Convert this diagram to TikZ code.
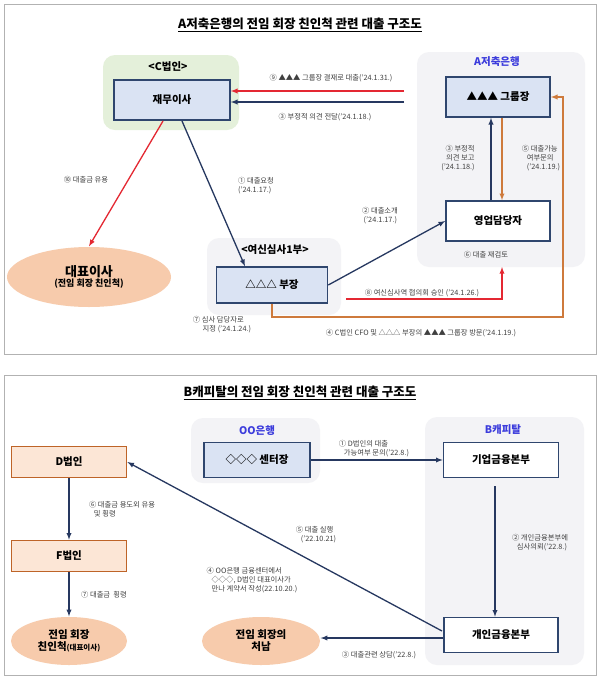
\documentclass[tikz,border=0pt]{standalone}
\usepackage{fontspec}
\setmainfont{Noto Sans CJK KR}
\usepackage{tikz}
\usetikzlibrary{arrows}
\usetikzlibrary{shapes.geometric}
\definecolor{navy}{RGB}{38,56,96}
\definecolor{lred}{RGB}{228,40,50}
\definecolor{lorange}{RGB}{206,122,60}
\definecolor{boxblue}{RGB}{218,227,243}
\definecolor{boxedge}{RGB}{47,70,110}
\definecolor{greenbg}{RGB}{228,240,218}
\definecolor{graybg}{RGB}{243,243,246}
\definecolor{peach}{RGB}{247,203,172}
\definecolor{tan}{RGB}{252,230,214}
\definecolor{tanedge}{RGB}{190,100,40}
\definecolor{titleblue}{RGB}{60,60,220}
\tikzset{
  box/.style={draw=boxedge,line width=1.6pt,fill=white,minimum width=104pt,minimum height=40pt,font=\fontsize{10.5}{12}\selectfont\bfseries},
  bbox/.style={box,fill=boxblue},
  tbox/.style={box,draw=tanedge,fill=tan,minimum width=115pt,minimum height=31pt},
  panel/.style={fill=graybg,rounded corners=12pt},
  oval/.style={ellipse,fill=peach,font=\fontsize{10.5}{12}\selectfont\bfseries,align=center},
  lbl/.style={font=\fontsize{7.3}{9}\selectfont,text=black!75,align=left},
  head/.style={font=\fontsize{10.5}{12}\selectfont\bfseries},
}
\begin{document}
\begin{tikzpicture}[x=1pt,y=-1pt,>=latex,line width=1.3pt]
			\useasboundingbox (0,0) rectangle (600,681);
			\fill[white] (0,0) rectangle (600,681);
			\draw[black!30,line width=0.8pt] (4,4) rectangle (596,354);
			\draw[black!30,line width=0.8pt] (4,375) rectangle (596,675);
			
			% A bank
			
			\node[font=\fontsize{12.5}{14}\selectfont\bfseries] (titleA) at (300,25) {\underline{A저축은행의 전임 회장 친인척 관련 대출 구조도}};
			\fill[greenbg,rounded corners=12pt] (103,55) rectangle (239,130);
			\fill[panel] (417,52) rectangle (585,267);
			\fill[panel] (207,238) rectangle (341,315);
			\node[head] (cLabel) at (168,67) {<C법인>};
			\node[head,text=titleblue] (aLabel) at (497,62) {A저축은행};
			\node[head] (sLabel) at (275,250) {<여신심사1부>};
			\node[bbox,minimum width=116pt] (cfo) at (172,100) {재무이사};
			\node[bbox] (head1) at (498,97) {▲▲▲ 그룹장};
			\node[box] (sales) at (498,221) {영업담당자};
			\node[bbox,minimum width=111pt,minimum height=36pt] (mgr) at (272,285) {△△△ 부장};
			\node[oval,minimum width=164pt,minimum height=60pt] (ceo) at (89,277) {{\fontsize{13}{14}\selectfont 대표이사}\\[-2pt]{\fontsize{9}{10}\selectfont(전임 회장 친인척)}};
			\coordinate (r1) at (404,91);
			\coordinate (r2) at (404,102);
			\draw[->,lred] (r1) -- (cfo.east |- r1);
			\draw[->,navy] (r2) -- (cfo.east |- r2);
			\node[lbl] (l9) at (331,78) {⑨ ▲▲▲ 그룹장 결재로 대출(’24.1.31.)};
			\node[lbl] (l3a) at (325,117) {③ 부정적 의견 전달(’24.1.18.)};
			\draw[->,navy] (182,121) -- (mgr.north -| 245,0);
			\node[lbl] (l1) at (256,186) {① 대출요청\\(’24.1.17.)};
			\draw[->,lred] (163,121) -- (ceo.north);
			\node[lbl] (l10) at (86,180) {⑩ 대출금 유용};
			\draw[->,navy] (mgr.east) -- (sales.west);
			\node[lbl] (l2) at (380,216) {② 대출소개\\ \ (’24.1.17.)};
			\draw[->,navy] (sales.north -| 491,0) -- (head1.south -| 491,0);
			\node[lbl,align=right] (l3b) at (458,158) {③ 부정적\\의견 보고\\(’24.1.18.)};
			\draw[->,lorange] (head1.south -| 502,0) -- (sales.north -| 502,0);
			\node[lbl] (l5) at (541,158) {⑤ 대출가능\\\ \ \ 여부문의\\\ \ \ (’24.1.19.)};
			\node[lbl] (l6) at (486,255) {⑥ 대출 재검토};
			\coordinate (p8) at (346,299);
			\draw[->,lred] (p8) -| (502,267);
			\node[lbl] (l8) at (422,293) {⑧ 여신심사역 협의회 승인 (’24.1.26.)};
			\draw[->,lorange] (mgr.south) |- (563,317) |- (head1.east);
			\node[lbl] (l7) at (222,325) {⑦ 심사 담당자로\\\ \ \ \ \ \ 지정 (’24.1.24.)};
			\node[lbl] (l4) at (421,333) {④ C법인 CFO 및 △△△ 부장의 ▲▲▲ 그룹장 방문(’24.1.19.)};
			
			% B capital
			
			\node[font=\fontsize{12.5}{14}\selectfont\bfseries] (titleB) at (300,393) {\underline{B캐피탈의 전임 회장 친인척 관련 대출 구조도}};
			\fill[panel] (191,418) rectangle (320,483);
			\fill[panel] (425,417) rectangle (584,665);
			\node[head,text=titleblue] (ooLabel) at (257,431) {OO은행};
			\node[head,text=titleblue] (bLabel) at (503,430) {B캐피탈};
			\node[bbox,minimum width=106pt,minimum height=35pt] (center) at (257,460) {◇◇◇ 센터장};
			\node[box,minimum width=115pt,minimum height=35pt] (corp) at (501,460) {기업금융본부};
			\node[box,minimum width=114pt,minimum height=35pt] (pers) at (501,635) {개인금융본부};
			\node[tbox] (dcorp) at (69,462) {D법인};
			\node[tbox] (fcorp) at (69,556) {F법인};
			\node[oval,minimum width=116pt,minimum height=48pt] (rel) at (69,641) {전임 회장\\친인척{\fontsize{7.5}{9}\selectfont(대표이사)}};
			\node[oval,minimum width=118pt,minimum height=48pt] (son) at (261,641) {전임 회장의\\처남};
			\draw[->,navy] (center) -- (corp);
			\node[lbl] (m1) at (374,449) {① D법인의 대출\\\ \ \ 가능여부 문의(’22.8.)};
			\draw[->,navy] (495,486) -- (pers.north -| 495,0);
			\node[lbl] (m2) at (540,543) {② 개인금융본부에\\\ \ \ 심사의뢰(’22.8.)};
			\draw[->,navy] (pers.west |- 0,638) -- (son.east |- 0,638);
			\node[lbl] (m3) at (379,655) {③ 대출관련 상담(’22.8.)};
			\draw[->,navy] (442,631) -- (dcorp.east);
			\node[lbl] (m5) at (316,535) {⑤ 대출 실행\\\ \ \ (’22.10.21)};
			\node[lbl] (m4) at (252,580) {④ OO은행 금융센터에서\\\ \ \ ◇◇◇, D법인 대표이사가\\\ \ \ 만나 계약서 작성(22.10.20.)};
			\draw[->,navy] (dcorp) -- (fcorp);
			\node[lbl] (m6) at (122,509) {⑥ 대출금 용도외 유용\\\ \ \ 및 횡령};
			\draw[->,navy] (fcorp) -- (rel);
			\node[lbl] (m7) at (104,595) {⑦ 대출금 \ 횡령};
		\end{tikzpicture}
\end{document}
